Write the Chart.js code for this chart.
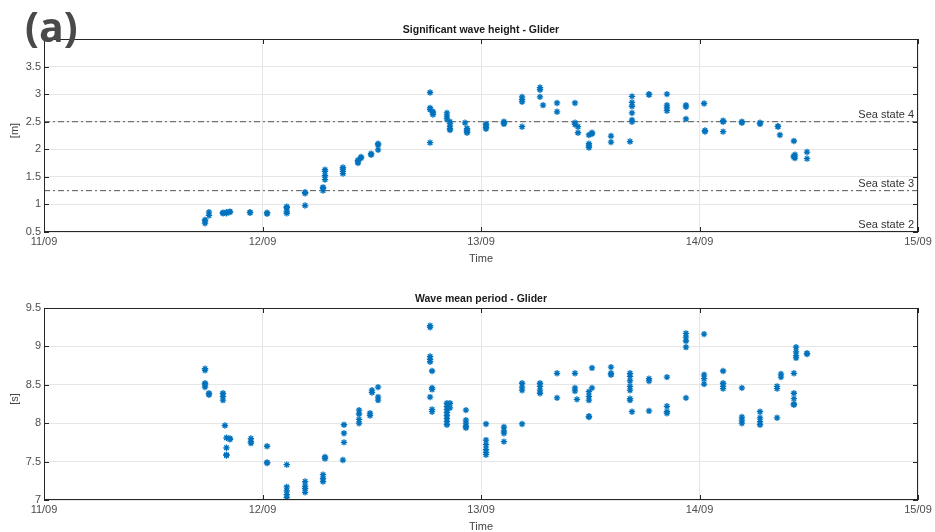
<!DOCTYPE html>
<html>
<head>
<meta charset="utf-8">
<script src="https://cdn.jsdelivr.net/npm/chart.js@4.4.1/dist/chart.umd.min.js"></script>
<style>
  body { margin: 0; background: #fff; }
  #wrap { position: relative; width: 935px; height: 532px; }
  canvas { position: absolute; left: 0; }
  #hs { top: 0; }
  #tm { top: 266px; }
  #tag { position: absolute; left: 25px; top: -2px; font: bold 41px "Open Sans", sans-serif; color: #4a4a4a; }
</style>
</head>
<body>
<div id="wrap">
  <canvas id="hs" width="935" height="266"></canvas>
  <canvas id="tm" width="935" height="266"></canvas>
  <div id="tag">(a)</div>
</div>
<script>
// time axis: days since 11/09 00:00
const dayLabels = ['11/09', '12/09', '13/09', '14/09', '15/09'];

// significant wave height [m]
const hsTime = [
  0.737, 0.737, 0.737, 0.755, 0.755, 0.819, 0.819, 0.835, 0.835, 0.851, 0.851,
  0.943, 0.943, 1.021, 1.021, 1.111, 1.111, 1.111, 1.111, 1.195, 1.195, 1.195,
  1.277, 1.277, 1.277, 1.286, 1.286, 1.286, 1.286, 1.368, 1.368, 1.368, 1.368,
  1.437, 1.437, 1.437, 1.451, 1.451, 1.497, 1.497, 1.529, 1.529, 1.529,
  1.767, 1.767, 1.767, 1.767, 1.780, 1.780, 1.780, 1.844, 1.844, 1.844,
  1.858, 1.858, 1.858, 1.858, 1.858, 1.927, 1.936, 1.936, 1.936, 1.936,
  2.023, 2.023, 2.023, 2.023, 2.105, 2.105, 2.105, 2.188, 2.188, 2.188, 2.188,
  2.270, 2.270, 2.270, 2.284, 2.348, 2.348, 2.430, 2.430, 2.430, 2.444, 2.444,
  2.494, 2.494, 2.494, 2.494, 2.508, 2.508, 2.595, 2.595, 2.682,
  2.691, 2.691, 2.691, 2.691, 2.691, 2.691, 2.769, 2.769, 2.851, 2.851, 2.851, 2.851,
  2.938, 2.938, 2.938, 3.021, 3.025, 3.025, 3.108, 3.108, 3.108, 3.194, 3.194,
  3.277, 3.277, 3.359, 3.359, 3.368, 3.432, 3.432, 3.432, 3.437, 3.437, 3.492, 3.492
];
const hsValue = [
  0.66, 0.70, 0.72, 0.80, 0.86, 0.84, 0.85, 0.84, 0.86, 0.86, 0.87,
  0.85, 0.86, 0.83, 0.85, 0.94, 0.96, 0.84, 0.88, 1.20, 1.22, 0.98,
  1.29, 1.25, 1.31, 1.60, 1.63, 1.45, 1.52, 1.60, 1.64, 1.67, 1.56,
  1.75, 1.78, 1.80, 1.84, 1.86, 1.90, 1.92, 2.10, 2.08, 1.99,
  3.03, 2.75, 2.72, 2.12, 2.68, 2.63, 2.66, 2.66, 2.60, 2.55,
  2.47, 2.42, 2.38, 2.35, 2.50, 2.48, 2.35, 2.30, 2.33, 2.38,
  2.44, 2.40, 2.37, 2.46, 2.48, 2.46, 2.50, 2.95, 2.90, 2.86, 2.41,
  3.12, 3.08, 2.95, 2.80, 2.84, 2.68, 2.84, 2.48, 2.45, 2.41, 2.30,
  2.10, 2.03, 2.06, 2.26, 2.30, 2.28, 2.24, 2.13, 2.14,
  2.53, 2.66, 2.85, 2.96, 2.78, 2.50, 2.99, 3.00, 3.00, 2.80, 2.75, 2.70,
  2.77, 2.80, 2.55, 2.83, 2.32, 2.34, 2.50, 2.52, 2.32, 2.48, 2.50,
  2.46, 2.48, 2.41, 2.42, 2.26, 2.15, 1.86, 1.88, 1.90, 1.84, 1.95, 1.83
];

// wave mean period [s]
const tmTime = [
  0.737, 0.737, 0.737, 0.737, 0.737, 0.755, 0.755, 0.819, 0.819, 0.819, 0.828,
  0.835, 0.835, 0.835, 0.835, 0.851, 0.851, 0.947, 0.947, 0.947, 1.021, 1.021, 1.021,
  1.111, 1.111, 1.111, 1.111, 1.111, 1.195, 1.195, 1.195, 1.195, 1.277, 1.277, 1.277,
  1.286, 1.286, 1.368, 1.373, 1.373, 1.373, 1.442, 1.442, 1.442, 1.442, 1.492, 1.492,
  1.501, 1.501, 1.529, 1.529, 1.529,
  1.767, 1.767, 1.767, 1.767, 1.767, 1.767, 1.776, 1.776, 1.776, 1.776, 1.776,
  1.844, 1.844, 1.844, 1.844, 1.844, 1.844, 1.844, 1.844, 1.858, 1.858,
  1.931, 1.931, 1.931, 1.931, 1.931, 2.023, 2.023, 2.023, 2.023, 2.023, 2.023,
  2.105, 2.105, 2.105, 2.105, 2.188, 2.188, 2.188, 2.188, 2.270, 2.270, 2.270, 2.270,
  2.348, 2.348, 2.430, 2.430, 2.430, 2.439, 2.508, 2.508, 2.494, 2.494, 2.494, 2.494, 2.494,
  2.595, 2.595, 2.595, 2.682, 2.682, 2.682, 2.682, 2.682, 2.682, 2.682, 2.691,
  2.769, 2.769, 2.769, 2.851, 2.851, 2.851, 2.851, 2.938, 2.938, 2.938, 2.938, 2.938,
  3.021, 3.021, 3.021, 3.021, 3.108, 3.108, 3.108, 3.108, 3.194, 3.194, 3.194, 3.194,
  3.277, 3.277, 3.277, 3.277, 3.355, 3.355, 3.355, 3.373, 3.373,
  3.432, 3.432, 3.432, 3.432, 3.432, 3.442, 3.442, 3.442, 3.442, 3.492, 3.492
];
const tmValue = [
  8.71, 8.69, 8.52, 8.47, 8.50, 8.39, 8.37, 8.39, 8.35, 8.30, 7.97,
  7.81, 7.68, 7.59, 7.58, 7.80, 7.79, 7.80, 7.76, 7.74, 7.70, 7.49, 7.48,
  7.46, 7.17, 7.07, 7.03, 7.12, 7.24, 7.18, 7.15, 7.10, 7.33, 7.24, 7.28,
  7.56, 7.54, 7.52, 7.98, 7.87, 7.75, 8.17, 8.12, 8.00, 8.05, 8.13, 8.10,
  8.43, 8.40, 8.47, 8.34, 8.30,
  9.27, 9.25, 8.87, 8.83, 8.80, 8.34, 8.68, 8.46, 8.44, 8.18, 8.15,
  8.26, 8.22, 8.18, 8.14, 8.10, 8.06, 8.02, 7.98, 8.26, 8.20,
  8.17, 8.04, 8.00, 7.96, 7.94, 7.99, 7.78, 7.72, 7.66, 7.62, 7.59,
  7.95, 7.90, 7.87, 7.76, 8.52, 8.47, 8.43, 7.99, 8.52, 8.48, 8.43, 8.39,
  8.65, 8.33, 8.65, 8.46, 8.42, 8.31, 8.72, 8.46, 8.41, 8.35, 8.30, 8.09, 8.08,
  8.73, 8.63, 8.65, 8.65, 8.61, 8.55, 8.48, 8.43, 8.30, 8.32, 8.15,
  8.58, 8.55, 8.16, 8.60, 8.22, 8.15, 8.13, 9.17, 9.12, 9.07, 8.99, 8.33,
  9.16, 8.63, 8.58, 8.51, 8.68, 8.52, 8.48, 8.45, 8.46, 8.08, 8.04, 8.00,
  8.15, 8.07, 8.02, 7.98, 8.07, 8.48, 8.45, 8.64, 8.60,
  8.65, 8.39, 8.32, 8.24, 8.25, 8.99, 8.93, 8.88, 8.85, 8.91, 8.90
];

// sea state thresholds [m] and their labels
const seaStateLevels = [1.25, 2.5];
const seaStateLabels = ['Sea state 2', 'Sea state 3', 'Sea state 4'];

const BLUE = '#0072BD';
const FONT = '"Liberation Sans", Arial, sans-serif';

const toPoints = (xs, ys) => xs.map((x, i) => ({ x, y: ys[i] }));

// frame, inward ticks and the extra texts
const framePlugin = {
  id: 'frame',
  afterDraw(chart, args, opts) {
    const { ctx, chartArea: a, scales } = chart;
    ctx.save();
    ctx.strokeStyle = '#262626';
    ctx.lineWidth = 1;
    ctx.strokeRect(a.left + 0.5, a.top + 0.5, a.right - a.left - 1, a.bottom - a.top - 1);
    ctx.beginPath();
    scales.x.ticks.forEach(t => {
      const px = Math.round(scales.x.getPixelForValue(t.value)) + 0.5;
      ctx.moveTo(px, a.bottom); ctx.lineTo(px, a.bottom - 5);
      ctx.moveTo(px, a.top); ctx.lineTo(px, a.top + 5);
    });
    scales.y.ticks.forEach(t => {
      const py = Math.round(scales.y.getPixelForValue(t.value)) + 0.5;
      ctx.moveTo(a.left, py); ctx.lineTo(a.left + 5, py);
      ctx.moveTo(a.right, py); ctx.lineTo(a.right - 5, py);
    });
    ctx.stroke();

    const cx = (a.left + a.right) / 2;
    ctx.fillStyle = '#1a1a1a';
    ctx.textAlign = 'center';
    ctx.textBaseline = 'middle';
    ctx.font = 'bold 10.5px ' + FONT;
    ctx.fillText(opts.title, cx, a.top - 9);
    ctx.fillStyle = '#444';
    ctx.font = '11px ' + FONT;
    ctx.fillText('Time', cx, a.bottom + 27);
    ctx.save();
    ctx.translate(15, (a.top + a.bottom) / 2 - 5);
    ctx.rotate(-Math.PI / 2);
    ctx.fillText(opts.yTitle, 0, 0);
    ctx.restore();

    if (opts.seaStates) {
      ctx.textAlign = 'right';
      ctx.textBaseline = 'alphabetic';
      ctx.fillStyle = '#333';
      ctx.fillText(seaStateLabels[0], a.right - 4, a.bottom - 4);
      seaStateLevels.forEach((lv, i) => {
        ctx.fillText(seaStateLabels[i + 1], a.right - 4, scales.y.getPixelForValue(lv) - 4);
      });
    }
    ctx.restore();
  }
};

function makeChart(id, points, yMin, yMax, opts, extra) {
  const datasets = [{
    type: 'scatter',
    data: points,
    pointStyle: 'star',
    pointRadius: 3.2,
    pointBorderWidth: 1.3,
    borderColor: BLUE,
    backgroundColor: BLUE,
    pointHoverRadius: 3.2
  }].concat(extra || []);

  return new Chart(document.getElementById(id), {
    type: 'scatter',
    data: { datasets },
    plugins: [framePlugin],
    options: {
      responsive: false,
      animation: false,
      devicePixelRatio: 1,
      layout: { padding: { top: opts.top, right: 17, left: 0, bottom: 0 } },
      plugins: {
        legend: { display: false },
        tooltip: { enabled: false },
        frame: opts
      },
      scales: {
        x: {
          type: 'linear',
          min: 0,
          max: 4,
          afterFit: s => { s.height = opts.xAxisHeight; },
          afterBuildTicks: s => { s.ticks = dayLabels.map((_, i) => ({ value: i })); },
          ticks: {
            callback: v => dayLabels[v],
            color: '#4d4d4d',
            font: { size: 11, family: FONT },
            padding: 3,
            maxRotation: 0
          },
          grid: { color: '#e6e6e6', drawTicks: false },
          border: { display: false }
        },
        y: {
          min: yMin,
          max: yMax,
          afterFit: s => { s.width = 44; },
          ticks: {
            stepSize: 0.5,
            callback: v => (v === yMax && opts.hideTop) ? '' : v,
            color: '#4d4d4d',
            font: { size: 11, family: FONT },
            padding: 3
          },
          grid: { color: '#e6e6e6', drawTicks: false },
          border: { display: false }
        }
      }
    }
  });
}

const seaStateLines = seaStateLevels.map(lv => ({
  type: 'line',
  data: [{ x: 0, y: lv }, { x: 4, y: lv }],
  borderColor: '#555',
  borderWidth: 1,
  borderDash: [6, 3, 2, 3],
  pointRadius: 0,
  fill: false
}));

makeChart('hs', toPoints(hsTime, hsValue), 0.5, 4,
  { title: 'Significant wave height - Glider', yTitle: '[m]', seaStates: true, hideTop: true, top: 39, xAxisHeight: 34 },
  seaStateLines);

makeChart('tm', toPoints(tmTime, tmValue), 7, 9.5,
  { title: 'Wave mean period - Glider', yTitle: '[s]', seaStates: false, hideTop: false, top: 42, xAxisHeight: 32 });
</script>
</body>
</html>
